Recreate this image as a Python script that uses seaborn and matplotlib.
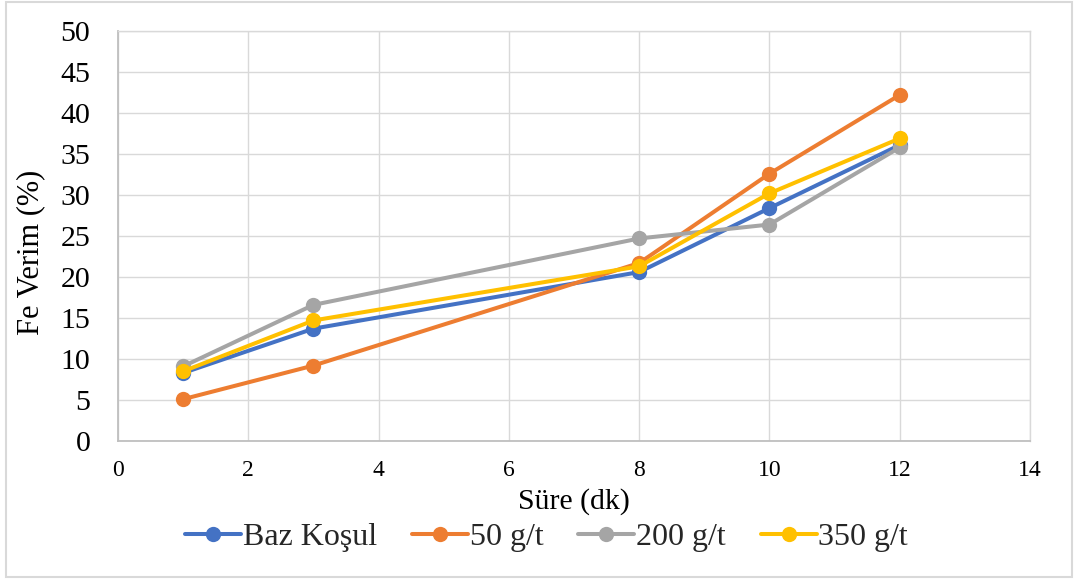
import numpy as np
import pandas as pd
import matplotlib
matplotlib.use("Agg")
import matplotlib.pyplot as plt
from matplotlib.patches import Rectangle
import seaborn as sns

# Leaching time (minutes) and Fe recovery (%) for each reagent dosage
sure_dk = [1, 3, 8, 10, 12]
baz_kosul = [8.3, 13.7, 20.6, 28.4, 36.1]
g50 = [5.1, 9.2, 21.7, 32.6, 42.2]
g200 = [9.1, 16.6, 24.7, 26.4, 35.8]
g350 = [8.5, 14.7, 21.3, 30.2, 36.9]

series_names = ["Baz Koşul", "50 g/t", "200 g/t", "350 g/t"]
series_values = [baz_kosul, g50, g200, g350]
palette = ["#4472C4", "#ED7D31", "#A5A5A5", "#FFC000"]

x_ticks = [0, 2, 4, 6, 8, 10, 12, 14]
y_ticks = [0, 5, 10, 15, 20, 25, 30, 35, 40, 45, 50]

df = pd.DataFrame({
    "Süre": np.tile(sure_dk, len(series_names)),
    "Verim": np.concatenate(series_values),
    "Seri": np.repeat(series_names, len(sure_dk)),
})

sns.set_theme(style="white")
plt.rcParams["font.family"] = ["Liberation Serif", "DejaVu Serif"]

fig = plt.figure(figsize=(10.78, 5.81), dpi=100)
ax = fig.add_axes([0.1095, 0.241, 0.846, 0.7056])

sns.lineplot(data=df, x="Süre", y="Verim", hue="Seri", hue_order=series_names,
             palette=palette, marker="o", markersize=11, markeredgewidth=0,
             linewidth=2.9, ax=ax, legend=True)

ax.set_xlim(0, 14)
ax.set_ylim(0, 50)
ax.set_xticks(x_ticks)
ax.set_yticks(y_ticks)
ax.grid(True, color="#D9D9D9", linewidth=1.0)
ax.set_axisbelow(True)
for side in ["top", "right"]:
    ax.spines[side].set_color("#D9D9D9")
    ax.spines[side].set_linewidth(1.0)
for side in ["left", "bottom"]:
    ax.spines[side].set_color("#BFBFBF")
    ax.spines[side].set_linewidth(1.3)

ax.tick_params(axis="y", length=0, pad=20, labelsize=21.5, labelcolor="black")
ax.tick_params(axis="x", length=0, pad=14, labelsize=17, labelcolor="black")

ax.set_xlabel("Süre (dk)", fontsize=21.5, color="black")
ax.set_ylabel("Fe Verim (%)", fontsize=22, color="black")
ax.xaxis.set_label_coords(0.5, -0.115)
ax.yaxis.set_label_coords(-0.08, 0.46)

handles, labels = ax.get_legend_handles_labels()
ax.legend(handles, labels, loc="center", bbox_to_anchor=(0.47, -0.235),
          ncol=4, frameon=False, fontsize=23, handlelength=1.75,
          handletextpad=0.05, columnspacing=1.1, borderaxespad=0)

fig.patches.append(Rectangle((0.006, 0.007), 0.988, 0.99, transform=fig.transFigure,
                             fill=False, edgecolor="#D9D9D9", linewidth=1.5))

fig.savefig("out.png", dpi=100, facecolor="white")
